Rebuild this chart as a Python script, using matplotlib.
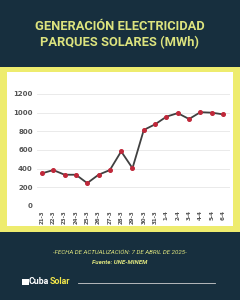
import matplotlib
matplotlib.use("Agg")
import matplotlib.pyplot as plt
from matplotlib.patches import Rectangle
from matplotlib import font_manager

dates = ["21-3", "22-3", "23-3", "24-3", "25-3", "26-3", "27-3", "28-3", "29-3", "30-3",
         "31-3", "1-4", "2-4", "3-4", "4-4", "5-4", "6-4"]
values = [350, 385, 335, 335, 245, 335, 385, 585, 405, 815, 875, 957, 995, 932, 1005, 1000, 982]
yticks = [0, 200, 400, 600, 800, 1000, 1200]

NAVY = "#172f3e"
YELLOW = "#eeec6e"
TITLE = "#dce37e"

names = {f.name for f in font_manager.fontManager.ttflist}
narrow = "Liberation Sans Narrow" if "Liberation Sans Narrow" in names else "Roboto"

W, H = 240, 300
fig = plt.figure(figsize=(2.4, 3.0), dpi=100)
fig.patch.set_facecolor(NAVY)

def box(x0, y0, x1, y1, color):
    fig.patches.append(Rectangle((x0 / W, 1 - y1 / H), (x1 - x0) / W, (y1 - y0) / H,
                                 transform=fig.transFigure, facecolor=color, edgecolor="none", zorder=-5))

box(0, 67, 240, 232, YELLOW)
box(7, 72, 233, 226, "white")

fam = [narrow, "DejaVu Sans"]
fig.text(0.5, 1 - 26 / H, "GENERACIÓN ELECTRICIDAD", ha="center", va="center",
         color=TITLE, fontsize=9.3, fontweight="bold", family=fam)
fig.text(0.5, 1 - 43 / H, "PARQUES SOLARES (MWh)", ha="center", va="center",
         color=TITLE, fontsize=9.3, fontweight="bold", family=fam)

ax = fig.add_axes([37 / W, 1 - 206 / H, (230 - 37) / W, (206 - 94) / H])
ax.set_zorder(2)
ax.set_facecolor("none")
x = list(range(len(dates)))
ax.plot(x, values, color="#404040", lw=1.3, marker="o", ms=2.6,
        markerfacecolor="#c0283a", markeredgecolor="#c0283a", zorder=3)
ax.set_xlim(-0.44, len(dates) - 1 + 0.62)
ax.set_ylim(0, 1200)
ax.set_yticks(yticks)
ax.set_yticklabels([str(v) for v in yticks], fontsize=5, fontweight="bold", color="#555555")
ax.set_xticks(x)
ax.set_xticklabels(dates, rotation=90, fontsize=4, fontweight="bold", color="#555555")
ax.grid(axis="y", color="#e6e6e6", lw=0.6)
ax.tick_params(length=0, pad=3)
for s in ax.spines.values():
    s.set_visible(False)

fig.text(0.5, 1 - 252 / H, "-FECHA DE ACTUALIZACIÓN: 7 DE ABRIL DE 2025-", ha="center", va="center",
         color=TITLE, fontsize=4.4, style="italic", family=fam)
fig.text(0.5, 1 - 262 / H, "Fuente: UNE-MINEM", ha="center", va="center",
         color=TITLE, fontsize=4.4, style="italic", fontweight="bold", family=fam)

fig.text(29 / W, 1 - 282 / H, "Cuba", ha="left", va="center", color="white",
         fontsize=6.3, fontweight="bold", family=fam)
fig.text(50 / W, 1 - 282 / H, "Solar", ha="left", va="center", color="#f2e64a",
         fontsize=6.3, fontweight="bold", family=fam)
fig.patches.append(Rectangle((22 / W, 1 - 285 / H), 7 / W, 6 / H, transform=fig.transFigure,
                             facecolor="white", edgecolor="none"))
fig.lines.append(plt.Line2D([78 / W, 215 / W], [1 - 283 / H, 1 - 283 / H],
                            transform=fig.transFigure, color="#cfcfcf", lw=0.6))

fig.savefig("out.png", dpi=100, facecolor=NAVY)
